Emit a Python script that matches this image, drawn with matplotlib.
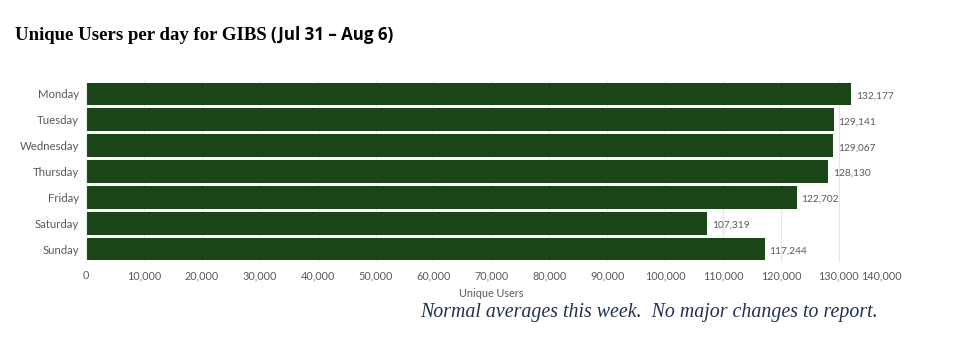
import matplotlib
matplotlib.use("Agg")
import matplotlib.pyplot as plt
from matplotlib.ticker import FuncFormatter, MultipleLocator

days = ["Monday", "Tuesday", "Wednesday", "Thursday", "Friday", "Saturday", "Sunday"]
unique_users = [132177, 129141, 129067, 128130, 122702, 107319, 117244]
x_max = 140000

BAR_COLOR = "#1a4516"
TEXT_GREY = "#5a5a5a"
GRID_GREY = "#e6e6e6"

fig = plt.figure(figsize=(9.55, 3.42), dpi=100)
ax = fig.add_axes([0.090, 0.234, 0.849, 0.529])

y = range(len(days))
bars = ax.barh(list(y), unique_users, height=0.88, color=BAR_COLOR, zorder=2)
ax.set_ylim(len(days) - 0.5, -0.5)
ax.set_xlim(0, x_max)

ax.set_yticks(list(y))
ax.set_yticklabels(days, fontsize=8.2, color=TEXT_GREY, family="Lato")
ax.xaxis.set_major_locator(MultipleLocator(10000))
# the last label is drawn separately, pulled in from the edge
ax.xaxis.set_major_formatter(FuncFormatter(lambda v, _: "" if v >= x_max else f"{int(v):,}"))
ax.tick_params(axis="both", length=0, pad=6)
ax.tick_params(axis="y", pad=5)
ax.tick_params(axis="x", labelsize=7.8, labelcolor=TEXT_GREY)
for lbl in ax.get_xticklabels():
    lbl.set_family("Lato")
ax.annotate(f"{x_max:,}", xy=(x_max, 0), xycoords=("data", "axes fraction"),
            xytext=(-11, -6), textcoords="offset points", ha="center", va="top",
            fontsize=7.8, color=TEXT_GREY, family="Lato")

ax.grid(axis="x", color=GRID_GREY, linewidth=0.8, zorder=0)
for side in ["top", "right", "bottom"]:
    ax.spines[side].set_visible(False)
ax.spines["left"].set_color(GRID_GREY)
ax.spines["left"].set_linewidth(0.8)

for bar, val in zip(bars, unique_users):
    ax.text(val + 800, bar.get_y() + bar.get_height() / 2 + 0.08, f"{val:,}",
            va="center", ha="left", fontsize=7.3, color=TEXT_GREY, family="Lato")

ax.set_xlabel("Unique Users", fontsize=7.8, color=TEXT_GREY, family="Lato", labelpad=5)

# heading: serif part then sans date range
t1 = fig.text(15 / 955, 1 - 35 / 342, "Unique Users per day for GIBS ", fontsize=13.5,
              family="Liberation Serif", weight="bold", va="center", ha="left")
fig.canvas.draw()
bb = t1.get_window_extent()
fig.text(bb.x1 / fig.bbox.width, 1 - 35 / 342, "(Jul 31 \u2013 Aug 6)", fontsize=12.2,
         family="Open Sans", weight="bold", va="center", ha="left")

fig.text(878 / 955, 1 - 313 / 342, "Normal averages this week.  No major changes to report.",
         fontsize=14.3, family="Liberation Serif", style="italic", color="#1f3150",
         va="center", ha="right")

fig.savefig("out.png", dpi=100)
